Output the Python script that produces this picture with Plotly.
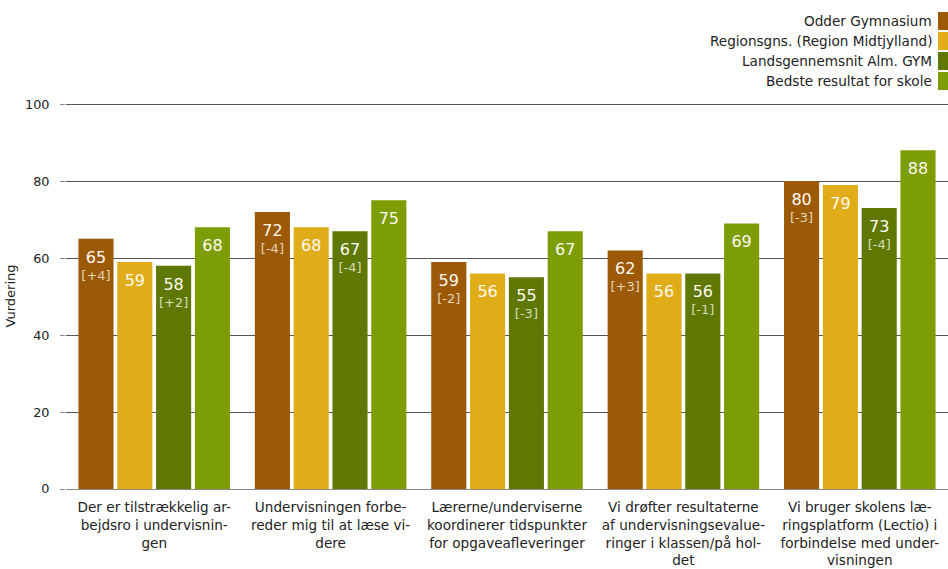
import plotly.graph_objects as go

categories = [
    "Der er tilstrækkelig ar-<br>bejdsro i undervisnin-<br>gen",
    "Undervisningen forbe-<br>reder mig til at læse vi-<br>dere",
    "Lærerne/underviserne<br>koordinerer tidspunkter<br>for opgaveafleveringer",
    "Vi drøfter resultaterne<br>af undervisningsevalue-<br>ringer i klassen/på hol-<br>det",
    "Vi bruger skolens læ-<br>ringsplatform (Lectio) i<br>forbindelse med under-<br>visningen",
]
series_names = [
    "Odder Gymnasium",
    "Regionsgns. (Region Midtjylland)",
    "Landsgennemsnit Alm. GYM",
    "Bedste resultat for skole",
]
odder = [65, 72, 59, 62, 80]
odder_diff = ["+4", "-4", "-2", "+3", "-3"]
region = [59, 68, 56, 56, 79]
lands = [58, 67, 55, 56, 73]
lands_diff = ["+2", "-4", "-3", "-1", "-4"]
best = [68, 75, 67, 69, 88]

colors = ["#9c5906", "#e0ad18", "#5e7803", "#7c9d04"]

SPACER = "<span style='font-size:4px'>&nbsp;</span><br>"
VAL = "<span style='font-size:16px'>%s</span>"
BR = "<br><span style='font-size:13px;color:rgba(255,255,240,0.75)'>[%s]</span>"

def labels(vals, diffs=None):
    out = []
    for i, v in enumerate(vals):
        t = SPACER + VAL % v
        if diffs is not None:
            t += BR % diffs[i]
        out.append(t)
    return out

series_vals = [odder, region, lands, best]
series_text = [labels(odder, odder_diff), labels(region), labels(lands, lands_diff), labels(best)]

fig = go.Figure()
for name, vals, txt, col in zip(series_names, series_vals, series_text, colors):
    fig.add_trace(go.Bar(
        x=categories, y=vals, name=name, marker_color=col, marker_line_width=0,
        text=txt, textposition="inside", insidetextanchor="end",
        textfont=dict(family="DejaVu Sans", size=13, color="#fffaf0"),
        constraintext="none", textangle=0, showlegend=False,
        hoverinfo="y+name",
    ))

W, H = 948, 569
ML, MR, MT, MB = 66, 0, 103, 80
PW, PH = W - ML - MR, H - MT - MB
BOTTOM = H - MB

# custom legend (text left of swatch, right aligned)
for i, (name, col) in enumerate(zip(series_names, colors)):
    yc = 21 + 20 * i
    fig.add_annotation(
        xref="paper", yref="paper", x=1, y=(BOTTOM - yc) / PH,
        text=name, showarrow=False, xanchor="right", yanchor="middle",
        xshift=-14, font=dict(family="DejaVu Sans", size=13.6, color="#222222"),
    )
    fig.add_shape(
        type="rect", xref="paper", yref="paper",
        x0=1 - 10 / PW, x1=1, y0=(BOTTOM - (yc + 9)) / PH, y1=(BOTTOM - (yc - 9)) / PH,
        fillcolor=col, line_width=0,
    )

fig.update_layout(
    width=W, height=H,
    margin=dict(l=ML, r=MR, t=MT, b=MB),
    paper_bgcolor="white", plot_bgcolor="white",
    barmode="group", bargap=0.12, bargroupgap=0.095,
    font=dict(family="DejaVu Sans", size=12.5, color="#222222"),
    xaxis=dict(
        showgrid=False, showline=True, linecolor="#888888", linewidth=1,
        ticks="", tickangle=0, tickfont=dict(size=13.6, color="#222222"),
        ticklabelstandoff=6, automargin=False,
    ),
    yaxis=dict(
        range=[0, 100.3], tickvals=[0, 20, 40, 60, 80, 100], showgrid=True,
        gridcolor="#555555", gridwidth=1.2,
        ticks="outside", ticklen=5, tickcolor="#888888", zeroline=False,
        tickfont=dict(size=12.8, color="#222222"), ticklabelstandoff=8, automargin=False,
        title=dict(text="Vurdering", font=dict(size=13, color="#222222"), standoff=6),
    ),
)

fig.write_html(
    "out.html",
    config={"displayModeBar": False},
    post_script="document.body.style.margin='0';document.body.style.padding='0';document.body.style.overflow='hidden';",
)
